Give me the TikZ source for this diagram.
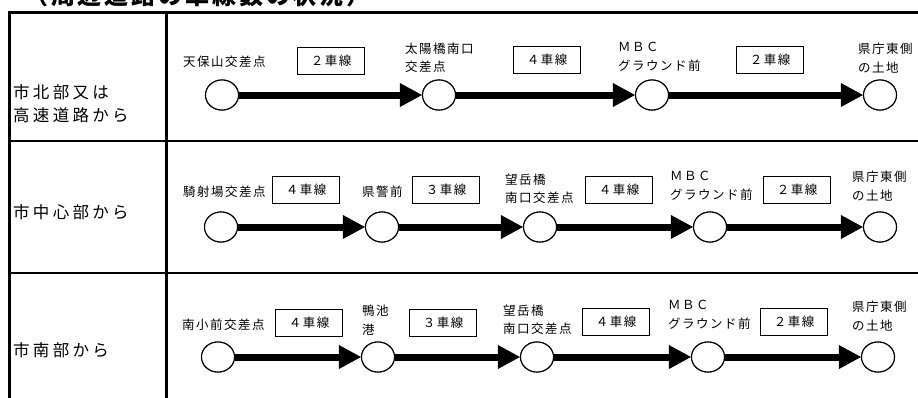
\documentclass[tikz,border=0pt]{standalone}
\usepackage{fontspec}
\newfontfamily\jp[LetterSpace=12]{Noto Sans CJK JP}
\newfontfamily\jpwide[LetterSpace=20]{Noto Sans CJK JP}
\newfontfamily\jptitle[LetterSpace=12]{Noto Sans CJK JP}
\usetikzlibrary{shapes.geometric,arrows.meta}
\begin{document}
\begin{tikzpicture}[x=1pt,y=-1pt,
  tbl/.style={line width=2.2pt},
  stn/.style={draw,ellipse,minimum width=33pt,minimum height=30pt,inner sep=0pt,fill=white,line width=1.1pt},
  lane/.style={draw,line width=1pt,minimum width=67pt,minimum height=27pt,inner sep=0pt,font=\jp\fontsize{12.5}{14}\selectfont},
  lbl/.style={anchor=west,inner sep=0pt,align=left,font=\jp\fontsize{12.5}{18.5}\selectfont},
  rowlbl/.style={anchor=west,inner sep=0pt,align=left,font=\jpwide\fontsize{16.5}{23}\selectfont},
  arr/.style={line width=7pt,-{Triangle[length=22pt,width=24pt,line width=0pt]}}]
\clip (0,0) rectangle (918,397);
\fill[white] (0,0) rectangle (918,397);
% title (cut off at top)
\node[anchor=base west,inner sep=0pt,font=\jptitle\bfseries\fontsize{24}{24}\selectfont] (title) at (24,4) {（周辺道路の車線数の状況）};
% table
\draw[tbl] (9.5,420) -- (9.5,12.5) -- (930,12.5);
\draw[tbl] (166.5,12.5) -- (166.5,420);
\draw[tbl] (9.5,141) -- (930,141);
\draw[tbl] (9.5,273) -- (930,273);
% row labels
\node[rowlbl] (r1) at (13,104) {市北部又は\\高速道路から};
\node[rowlbl] (r2) at (13,212) {市中心部から};
\node[rowlbl] (r3) at (13,350) {市南部から};
% ---------- row 1 ----------
\node[stn] (a1) at (222,95) {};
\node[stn] (a2) at (439,95) {};
\node[stn] (a3) at (652,95) {};
\node[stn] (a4) at (880,95) {};
\draw[arr] (a1.east) -- (a2.west);
\draw[arr] (a2.east) -- (a3.west);
\draw[arr] (a3.east) -- (a4.west);
\node[stn] at (a1) {};
\node[stn] at (a2) {};
\node[stn] at (a3) {};
\node[stn] at (a4) {};
\node[lbl] (ta1) at (183,62) {天保山交差点};
\node[lane] (la1) at (331,61) {２車線};
\node[lbl] (ta2) at (405,58) {太陽橋南口\\交差点};
\node[lane] (la2) at (547,60) {４車線};
\node[lbl] (ta3) at (618,57) {ＭＢＣ\\グラウンド前};
\node[lane] (la3) at (770,60) {２車線};
\node[lbl] (ta4) at (858,58) {県庁東側\\の土地};
% ---------- row 2 ----------
\node[stn] (b1) at (221,227) {};
\node[stn] (b2) at (382,227) {};
\node[stn] (b3) at (540,227) {};
\node[stn] (b4) at (710,227) {};
\node[stn] (b5) at (880,227) {};
\draw[arr] (b1.east) -- (b2.west);
\draw[arr] (b2.east) -- (b3.west);
\draw[arr] (b3.east) -- (b4.west);
\draw[arr] (b4.east) -- (b5.west);
\node[stn] at (b1) {};
\node[stn] at (b2) {};
\node[stn] at (b3) {};
\node[stn] at (b4) {};
\node[stn] at (b5) {};
\node[lbl] (tb1) at (183,192) {騎射場交差点};
\node[lane] (lb1) at (306,190) {４車線};
\node[lbl] (tb2) at (362,192) {県警前};
\node[lane] (lb2) at (446,190) {３車線};
\node[lbl] (tb3) at (505,189) {望岳橋\\南口交差点};
\node[lane] (lb3) at (619,190) {４車線};
\node[lbl] (tb4) at (670,186) {ＭＢＣ\\グラウンド前};
\node[lane] (lb4) at (797,190) {２車線};
\node[lbl] (tb5) at (852,186) {県庁東側\\の土地};
% ---------- row 3 ----------
\node[stn] (c1) at (218,357) {};
\node[stn] (c2) at (378,357) {};
\node[stn] (c3) at (537,357) {};
\node[stn] (c4) at (708,357) {};
\node[stn] (c5) at (878,357) {};
\draw[arr] (c1.east) -- (c2.west);
\draw[arr] (c2.east) -- (c3.west);
\draw[arr] (c3.east) -- (c4.west);
\draw[arr] (c4.east) -- (c5.west);
\node[stn] at (c1) {};
\node[stn] at (c2) {};
\node[stn] at (c3) {};
\node[stn] at (c4) {};
\node[stn] at (c5) {};
\node[lbl] (tc1) at (182,325) {南小前交差点};
\node[lane] (lc1) at (309,323) {４車線};
\node[lbl] (tc2) at (362,320) {鴨池\\港};
\node[lane] (lc2) at (443,323) {３車線};
\node[lbl] (tc3) at (503,320) {望岳橋\\南口交差点};
\node[lane] (lc3) at (616,322) {４車線};
\node[lbl] (tc4) at (668,315) {ＭＢＣ\\グラウンド前};
\node[lane] (lc4) at (794,322) {２車線};
\node[lbl] (tc5) at (852,316) {県庁東側\\の土地};
\end{tikzpicture}
\end{document}
